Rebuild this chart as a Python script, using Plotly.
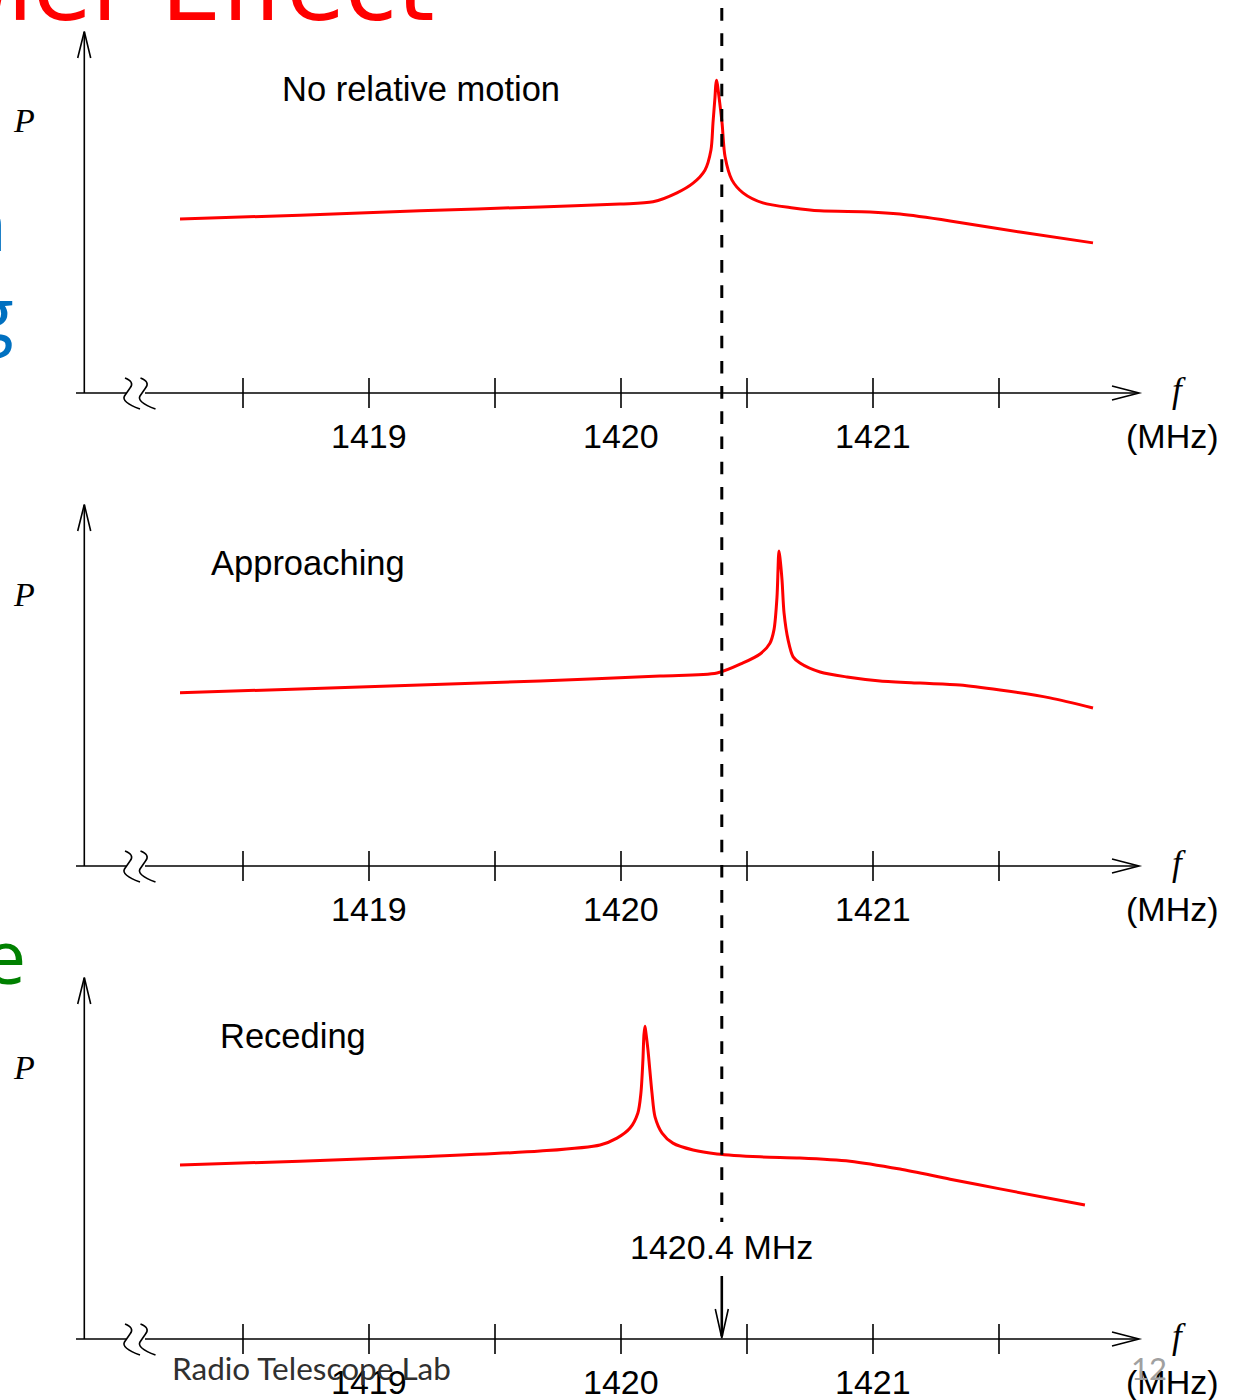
import plotly.graph_objects as go

W, H = 1237, 1400

# ---------------------------------------------------------------- data
panel_titles = ["No relative motion", "Approaching", "Receding"]
rest_freq = 1420.4                      # MHz, hydrogen line
major_ticks = [1419, 1420, 1421]
minor_ticks = [1418.5, 1419.5, 1420.5, 1421.5]
tick_labels = ["1419", "1420", "1421"]

# received power spectrum, source at rest
freq_rest = [1418.25, 1418.726, 1419.202, 1419.679, 1419.996, 1420.127, 1420.222,
             1420.286, 1420.333, 1420.357, 1420.365, 1420.373, 1420.376, 1420.379,
             1420.383, 1420.389, 1420.401, 1420.413, 1420.440, 1420.484, 1420.563,
             1420.683, 1420.790, 1420.988, 1421.107, 1421.306, 1421.583, 1421.873]
power_rest = [4.83, 4.94, 5.06, 5.17, 5.25, 5.31, 5.56,
              5.83, 6.19, 6.75, 7.50, 8.22, 8.55, 8.69,
              8.55, 8.22, 7.50, 6.56, 5.92, 5.56, 5.28,
              5.14, 5.06, 5.03, 4.97, 4.78, 4.47, 4.17]

# source approaching: line shifted up in frequency
freq_appr = [1418.25, 1418.726, 1419.202, 1419.679, 1420.155, 1420.381, 1420.484,
             1420.552, 1420.591, 1420.607, 1420.619, 1420.623, 1420.625, 1420.627,
             1420.631, 1420.639, 1420.647, 1420.663, 1420.683, 1420.710, 1420.790,
             1420.897, 1421.028, 1421.187, 1421.345, 1421.504, 1421.702, 1421.873]
power_appr = [4.81, 4.92, 5.03, 5.14, 5.28, 5.36, 5.64,
              5.89, 6.19, 6.56, 7.47, 8.22, 8.60, 8.75,
              8.55, 7.94, 7.03, 6.28, 5.81, 5.64, 5.39,
              5.25, 5.14, 5.08, 5.03, 4.89, 4.67, 4.39]

# source receding: line shifted down in frequency
freq_rec = [1418.25, 1418.726, 1419.202, 1419.679, 1419.917, 1419.984, 1420.036,
            1420.067, 1420.079, 1420.087, 1420.091, 1420.095, 1420.099, 1420.107,
            1420.123, 1420.135, 1420.163, 1420.206, 1420.286, 1420.381, 1420.552,
            1420.710, 1420.909, 1421.107, 1421.306, 1421.504, 1421.841]
power_rec = [4.83, 4.94, 5.06, 5.22, 5.39, 5.58, 5.86,
             6.28, 6.83, 7.75, 8.45, 8.69, 8.50, 8.03,
             6.83, 6.17, 5.72, 5.44, 5.25, 5.14, 5.06,
             5.03, 4.94, 4.72, 4.44, 4.17, 3.72]

spectra = [(freq_rest, power_rest), (freq_appr, power_appr), (freq_rec, power_rec)]

# ---------------------------------------------------------------- geometry
F_REF, F_REF_PX, PX_PER_MHZ = 1419.0, 369.0, 252.0   # frequency scale
AXIS_PX = [393, 866, 1339]                           # row of each frequency axis
PX_PER_P = 36.0
P_RANGE = (-1.6, 10.5)

RED = "#ff0000"
SANS = "Liberation Sans, Arial, sans-serif"
SERIF = "Liberation Serif, Times New Roman, serif"


def fx(px):
    return F_REF + (px - F_REF_PX) / PX_PER_MHZ


def fpx(f):
    return F_REF_PX + (f - F_REF) * PX_PER_MHZ


def pv(k, row):
    return (AXIS_PX[k] - row) / PX_PER_P


def paper_y(row):
    return (H - row) / H


def paper_x(px):
    return px / W


fig = go.Figure()
yrefs = ["y", "y2", "y3"]

for k, (fr, pw) in enumerate(spectra):
    fig.add_trace(go.Scatter(
        x=fr, y=pw, mode="lines", xaxis="x", yaxis=yrefs[k],
        line=dict(color=RED, width=3, shape="spline", smoothing=0.8),
        hoverinfo="skip", showlegend=False))

shapes = []
annotations = []
AX = dict(color="black", width=1.6)

for k in range(3):
    yr = yrefs[k]
    a = AXIS_PX[k]
    # frequency axis with a break near the origin
    shapes.append(dict(type="line", xref="x", yref=yr, x0=fx(76), x1=fx(126), y0=0, y1=0, line=AX))
    shapes.append(dict(type="line", xref="x", yref=yr, x0=fx(145), x1=fx(1138), y0=0, y1=0, line=AX))
    shapes.append(dict(type="path", xref="x", yref=yr, line=AX,
                       path=f"M {fx(1112)},{pv(k, a - 7)} L {fx(1139)},{pv(k, a)} L {fx(1112)},{pv(k, a + 7)}"))
    # power axis
    shapes.append(dict(type="line", xref="x", yref=yr, x0=fx(84.3), x1=fx(84.3), y0=0, y1=pv(k, a - 361), line=AX))
    shapes.append(dict(type="path", xref="x", yref=yr, line=AX,
                       path=f"M {fx(77.7)},{pv(k, a - 335)} L {fx(84.3)},{pv(k, a - 361.5)} L {fx(90.7)},{pv(k, a - 335)}"))
    # axis break marks
    for dx in (0, 15.5):
        p = (f"M {fx(125 + dx)},{pv(k, a - 15)} "
             f"Q {fx(135 + dx)},{pv(k, a - 11)} {fx(130 + dx)},{pv(k, a - 5)} "
             f"L {fx(124.5 + dx)},{pv(k, a + 3)} "
             f"Q {fx(121 + dx)},{pv(k, a + 9)} {fx(140 + dx)},{pv(k, a + 16)}")
        shapes.append(dict(type="path", xref="x", yref=yr, line=AX, path=p))
    # ticks crossing the axis
    for t in major_ticks + minor_ticks:
        shapes.append(dict(type="line", xref="x", yref=yr, x0=t, x1=t,
                           y0=pv(k, a + 15), y1=pv(k, a - 15), line=AX))
    # tick labels
    for t, lab in zip(major_ticks, tick_labels):
        annotations.append(dict(x=t, y=paper_y(a + 43), xref="x", yref="paper", text=lab,
                                showarrow=False, xanchor="center", yanchor="middle",
                                font=dict(family=SANS, size=34, color="black")))
    annotations.append(dict(x=paper_x(1172), y=paper_y(a + 43), xref="paper", yref="paper",
                            text="(MHz)", showarrow=False, xanchor="center", yanchor="middle",
                            font=dict(family=SANS, size=34, color="black")))
    annotations.append(dict(x=paper_x(1179), y=paper_y(a - 3), xref="paper", yref="paper",
                            text="<i>f</i>", showarrow=False, xanchor="center", yanchor="middle",
                            font=dict(family=SERIF, size=35, color="black")))
    annotations.append(dict(x=paper_x(24), y=paper_y(a - 272), xref="paper", yref="paper",
                            text="<i>P</i>", showarrow=False, xanchor="center", yanchor="middle",
                            font=dict(family=SERIF, size=34, color="black")))

title_left = [280, 209, 218]
title_row = [89, 563, 1036]
for k in range(3):
    annotations.append(dict(x=paper_x(title_left[k]), y=paper_y(title_row[k]), xref="paper", yref="paper",
                            text=panel_titles[k], showarrow=False, xanchor="left", yanchor="middle",
                            font=dict(family=SANS, size=34.5, color="black")))

# rest-frequency marker running through all panels
shapes.append(dict(type="line", xref="x", yref="paper", x0=rest_freq, x1=rest_freq,
                   y0=paper_y(-17.1), y1=paper_y(1222),
                   line=dict(color="black", width=3, dash="12.6px,12.6px"), layer="above"))
annotations.append(dict(x=rest_freq, y=paper_y(1247), xref="x", yref="paper",
                        text=f"{rest_freq} MHz", showarrow=False, xanchor="center", yanchor="middle",
                        font=dict(family=SANS, size=34, color="black")))
shapes.append(dict(type="line", xref="x", yref="y3", x0=rest_freq, x1=rest_freq,
                   y0=pv(2, 1276), y1=pv(2, 1336), line=dict(color="black", width=2.6)))
rp = fpx(rest_freq)
shapes.append(dict(type="path", xref="x", yref="y3", line=dict(color="black", width=1.6),
                   path=f"M {fx(rp - 6.5)},{pv(2, 1309)} L {rest_freq},{pv(2, 1338)} L {fx(rp + 6.5)},{pv(2, 1309)}"))

# slide title and surrounding slide text
annotations.append(dict(x=paper_x(436), y=paper_y(-13), xref="paper", yref="paper",
                        text="Doppler Effect", showarrow=False, xanchor="right", yanchor="middle",
                        font=dict(family="DejaVu Sans", size=95, color=RED)))
annotations.append(dict(x=paper_x(9), y=paper_y(222), xref="paper", yref="paper",
                        text="n", showarrow=False, xanchor="right", yanchor="middle",
                        font=dict(family="Open Sans", size=75, color="#0070C0")))
annotations.append(dict(x=paper_x(16), y=paper_y(312), xref="paper", yref="paper",
                        text="g", showarrow=False, xanchor="right", yanchor="middle",
                        font=dict(family="Open Sans", size=75, color="#0070C0")))
annotations.append(dict(x=paper_x(28), y=paper_y(955), xref="paper", yref="paper",
                        text="e", showarrow=False, xanchor="right", yanchor="middle",
                        font=dict(family="Open Sans", size=75, color="#008000")))
annotations.append(dict(x=paper_x(1149), y=paper_y(1368), xref="paper", yref="paper",
                        text="12", showarrow=False, xanchor="center", yanchor="middle",
                        font=dict(family="Lato", size=31, color="#a0a0a0")))
annotations.append(dict(x=paper_x(170), y=paper_y(1368), xref="paper", yref="paper",
                        text="Radio Telescope Lab", showarrow=False, xanchor="left", yanchor="middle",
                        font=dict(family="Lato", size=31.5, color="#303030")))

layout = dict(
    width=W, height=H, margin=dict(l=0, r=0, t=0, b=0),
    paper_bgcolor="white", plot_bgcolor="rgba(0,0,0,0)",
    xaxis=dict(range=[fx(0), fx(W)], domain=[0, 1], visible=False, fixedrange=True),
    shapes=shapes, annotations=annotations, showlegend=False,
)
for k in range(3):
    top = AXIS_PX[k] - P_RANGE[1] * PX_PER_P
    bot = AXIS_PX[k] - P_RANGE[0] * PX_PER_P
    name = "yaxis" if k == 0 else f"yaxis{k + 1}"
    layout[name] = dict(range=list(P_RANGE), domain=[paper_y(bot), paper_y(top)],
                        visible=False, fixedrange=True, anchor="x")
fig.update_layout(**layout)

fig.write_html("out.html", config={"displayModeBar": False})
